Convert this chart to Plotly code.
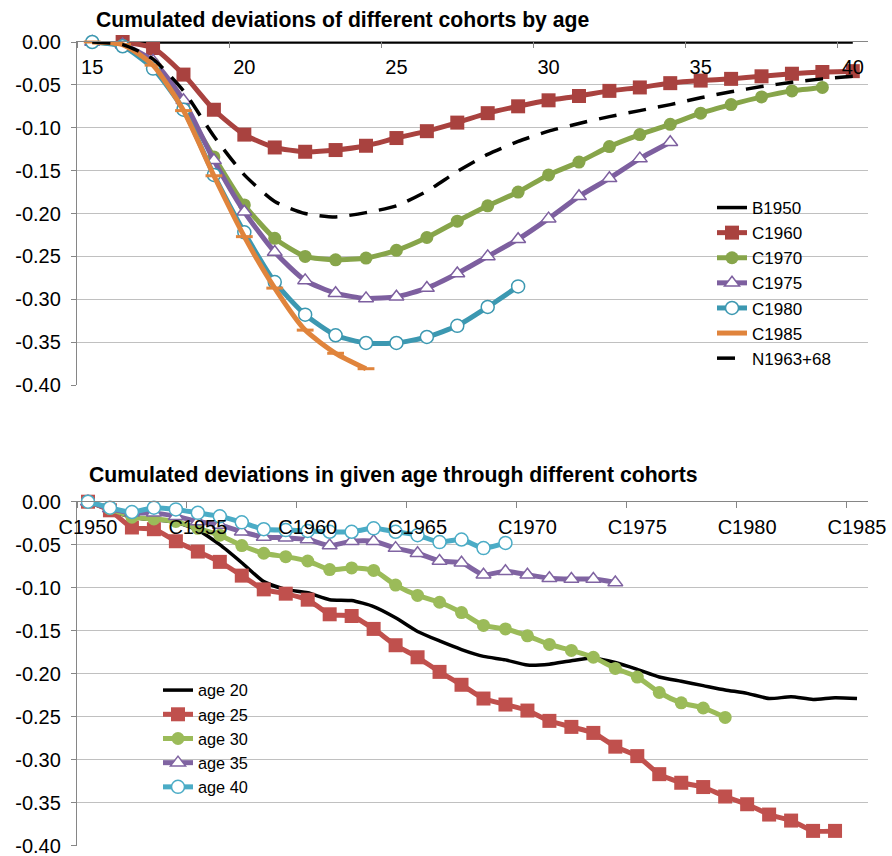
import plotly.graph_objects as go

# ---------------- data: top chart (by age) ----------------
AGES = list(range(15, 41))
AGE_TICKS = [15, 20, 25, 30, 35, 40]

B1950_START = 15
B1950 = [0.000, 0.000, 0.000, 0.000, 0.000, 0.000, 0.000, 0.000, 0.000, 0.000,
         0.000, 0.000, 0.000, 0.000, 0.000, 0.000, 0.000, 0.000, 0.000, 0.000,
         0.000, 0.000, 0.000, 0.000, 0.000, 0.000]
C1960_START = 16
C1960 = [0.000, -0.007, -0.038, -0.079, -0.108, -0.123, -0.128, -0.126, -0.121, -0.112,
         -0.104, -0.094, -0.083, -0.075, -0.068, -0.063, -0.057, -0.053, -0.048, -0.045,
         -0.043, -0.040, -0.037, -0.035, -0.034]
C1970_START = 15
C1970 = [0.000, -0.004, -0.025, -0.075, -0.134, -0.190, -0.229, -0.250, -0.254, -0.252,
         -0.243, -0.228, -0.209, -0.191, -0.175, -0.155, -0.140, -0.122, -0.108, -0.096,
         -0.083, -0.073, -0.064, -0.057, -0.053]
C1975_START = 15
C1975 = [0.000, -0.003, -0.022, -0.068, -0.138, -0.198, -0.245, -0.278, -0.293, -0.299,
         -0.297, -0.287, -0.270, -0.250, -0.230, -0.206, -0.180, -0.159, -0.136, -0.117]
C1980_START = 15
C1980 = [0.000, -0.005, -0.031, -0.079, -0.155, -0.222, -0.280, -0.318, -0.342, -0.351,
         -0.351, -0.344, -0.331, -0.309, -0.285]
C1985_START = 15
C1985 = [0.000, -0.003, -0.027, -0.080, -0.156, -0.227, -0.287, -0.336, -0.363, -0.381]
N1963_68_START = 15
N1963_68 = [0.000, -0.003, -0.020, -0.057, -0.110, -0.155, -0.186, -0.200, -0.204, -0.199,
            -0.191, -0.174, -0.151, -0.131, -0.116, -0.104, -0.095, -0.087, -0.080, -0.073,
            -0.065, -0.058, -0.052, -0.047, -0.043, -0.040]

# ---------------- data: bottom chart (by cohort) ----------------
COHORTS = list(range(1950, 1986))
COHORT_TICKS = [1950, 1955, 1960, 1965, 1970, 1975, 1980, 1985]
COHORT_LABELS = ["C1950", "C1955", "C1960", "C1965", "C1970", "C1975", "C1980", "C1985"]

AGE20 = [0.000, -0.010, -0.018, -0.021, -0.024, -0.033, -0.050, -0.071, -0.093, -0.102,
         -0.106, -0.114, -0.115, -0.122, -0.135, -0.151, -0.162, -0.172, -0.180, -0.184,
         -0.190, -0.189, -0.185, -0.182, -0.187, -0.195, -0.204, -0.209, -0.214, -0.219,
         -0.223, -0.229, -0.227, -0.230, -0.228, -0.229]
AGE25 = [0.000, -0.010, -0.030, -0.032, -0.046, -0.058, -0.070, -0.086, -0.102, -0.107,
         -0.114, -0.131, -0.133, -0.148, -0.167, -0.181, -0.198, -0.213, -0.229, -0.236,
         -0.243, -0.255, -0.262, -0.269, -0.285, -0.296, -0.317, -0.327, -0.332, -0.343,
         -0.352, -0.364, -0.371, -0.383, -0.383]
AGE30 = [0.000, -0.008, -0.018, -0.020, -0.023, -0.031, -0.039, -0.051, -0.060, -0.064,
         -0.069, -0.079, -0.077, -0.080, -0.097, -0.109, -0.117, -0.129, -0.144, -0.148,
         -0.156, -0.166, -0.173, -0.181, -0.194, -0.204, -0.222, -0.234, -0.240, -0.251]
AGE35 = [0.000, -0.008, -0.013, -0.013, -0.017, -0.023, -0.027, -0.035, -0.041, -0.042,
         -0.044, -0.051, -0.046, -0.046, -0.054, -0.060, -0.069, -0.071, -0.085, -0.081,
         -0.085, -0.089, -0.090, -0.090, -0.094]
AGE40 = [0.000, -0.007, -0.012, -0.007, -0.009, -0.013, -0.017, -0.024, -0.032, -0.033,
         -0.034, -0.035, -0.035, -0.031, -0.035, -0.039, -0.047, -0.044, -0.054, -0.048]

Y_TICKS = [0.00, -0.05, -0.10, -0.15, -0.20, -0.25, -0.30, -0.35, -0.40]

# ---------------- styling ----------------
FONT = "Liberation Sans, Arial, sans-serif"
AXIS_GRAY = "#868686"
GRID_GRAY = "#C0C0C0"
TICK_FS = 20
TITLE_FS = 21.2

fig = go.Figure()


def xs_from(start, n):
    return [start + i for i in range(n)]


def cohorts_for(vals):
    return COHORTS[:len(vals)]


top = [
    ("B1950", B1950_START, B1950, dict(color="#000000", width=3.5), None),
    ("C1960", C1960_START, C1960, dict(color="#A9423F", width=5),
     dict(symbol="square", size=14, color="#A9423F")),
    ("C1970", C1970_START, C1970, dict(color="#87A54A", width=5),
     dict(symbol="circle", size=13, color="#87A54A")),
    ("C1975", C1975_START, C1975, dict(color="#7D5F9F", width=5),
     dict(symbol="triangle-up", size=13, color="white", line=dict(color="#7D5F9F", width=1.5))),
    ("C1980", C1980_START, C1980, dict(color="#3C98B1", width=5),
     dict(symbol="circle", size=13, color="white", line=dict(color="#3C98B1", width=1.5))),
    ("C1985", C1985_START, C1985, dict(color="#E0843C", width=5),
     dict(symbol="line-ew", size=12, color="#E0843C", line=dict(color="#E0843C", width=3))),
    ("N1963+68", N1963_68_START, N1963_68, dict(color="#000000", width=3.5, dash="18px,12px"), None),
]
for name, start, vals, line, marker in top:
    fig.add_trace(go.Scatter(
        x=xs_from(start, len(vals)), y=vals, name=name,
        mode="lines+markers" if marker else "lines",
        line=dict(shape="spline", smoothing=0.6, **line),
        marker=marker, cliponaxis=False, xaxis="x", yaxis="y", legend="legend",
    ))

bottom = [
    ("age 20", AGE20, dict(color="#000000", width=3.5), None),
    ("age 25", AGE25, dict(color="#C0504D", width=5),
     dict(symbol="square", size=14, color="#C0504D")),
    ("age 30", AGE30, dict(color="#9BBB59", width=5),
     dict(symbol="circle", size=13, color="#9BBB59")),
    ("age 35", AGE35, dict(color="#8064A2", width=5),
     dict(symbol="triangle-up", size=13, color="white", line=dict(color="#8064A2", width=1.5))),
    ("age 40", AGE40, dict(color="#4BACC6", width=5),
     dict(symbol="circle", size=13, color="white", line=dict(color="#4BACC6", width=1.5))),
]
for name, vals, line, marker in bottom:
    fig.add_trace(go.Scatter(
        x=cohorts_for(vals), y=vals, name=name,
        mode="lines+markers" if marker else "lines",
        line=dict(shape="spline", smoothing=0.6, **line),
        marker=marker, cliponaxis=False, xaxis="x2", yaxis="y2", legend="legend2",
    ))

W, H = 892, 856
L, R = 77, 868
top_t, top_b = 42, 385
bot_t, bot_b = 501.7, 845.5


def ydom(t, b):
    return [(H - b) / H, (H - t) / H]


def px_x(v):
    return v / W


def px_y(v):
    return (H - v) / H


y_ticktext = [f"{v:.2f}" for v in Y_TICKS]

yaxis_common = dict(
    range=[-0.40, 0.0], tickvals=Y_TICKS, ticktext=y_ticktext,
    showgrid=True, gridcolor=GRID_GRAY, gridwidth=1.3, zeroline=False,
    showline=True, linecolor=AXIS_GRAY, linewidth=1.3,
    ticks="outside", ticklen=5, tickcolor=AXIS_GRAY, tickwidth=1.3,
    tickfont=dict(family=FONT, size=TICK_FS, color="#000000"),
    ticklabelstandoff=6, ticklabeloverflow="allow", automargin=False,
)
xaxis_common = dict(
    side="top", showgrid=False, zeroline=False,
    showline=True, linecolor=AXIS_GRAY, linewidth=1.3,
    ticks="", ticklabelposition="inside", ticklabeloverflow="allow",
    tickfont=dict(family=FONT, size=TICK_FS, color="#000000"),
    ticklabelstandoff=19, automargin=False,
)

# white legend boxes hiding the gridlines, as in the original
legend_boxes = [
    dict(type="rect", xref="paper", yref="paper", layer="between",
         x0=px_x(650), x1=px_x(866), y0=px_y(374), y1=px_y(190),
         fillcolor="white", line=dict(width=0)),
    dict(type="rect", xref="paper", yref="paper", layer="between",
         x0=px_x(123), x1=px_x(274), y0=px_y(800), y1=px_y(676),
         fillcolor="white", line=dict(width=0)),
]

fig.update_layout(
    width=W, height=H, margin=dict(l=0, r=0, t=0, b=0, autoexpand=False),
    paper_bgcolor="white", plot_bgcolor="white",
    font=dict(family=FONT, color="#000000"),
    xaxis=dict(domain=[L / W, R / W], anchor="y",
               range=[AGES[0] - 0.5, AGES[-1] + 0.5],
               tickvals=AGE_TICKS, ticktext=[str(a) for a in AGE_TICKS],
               minor=dict(tickvals=[a - 0.5 for a in AGE_TICKS], ticks="inside",
                          ticklen=6, tickcolor=AXIS_GRAY, tickwidth=1.3, showgrid=False),
               **xaxis_common),
    yaxis=dict(domain=ydom(top_t, top_b), anchor="x", **yaxis_common),
    xaxis2=dict(domain=[L / W, R / W], anchor="y2",
                range=[COHORTS[0] - 0.5, COHORTS[-1] + 0.5],
                tickvals=COHORT_TICKS, ticktext=COHORT_LABELS,
                minor=dict(tickvals=[c - 0.5 for c in COHORT_TICKS], ticks="inside",
                           ticklen=6, tickcolor=AXIS_GRAY, tickwidth=1.3, showgrid=False),
                **xaxis_common),
    yaxis2=dict(domain=ydom(bot_t, bot_b), anchor="x2", **yaxis_common),
    legend=dict(x=px_x(712), y=px_y(190), xanchor="left", yanchor="top",
                bgcolor="rgba(0,0,0,0)", borderwidth=0,
                font=dict(family=FONT, size=17, color="#000000"),
                tracegroupgap=0),
    legend2=dict(x=px_x(158), y=px_y(673), xanchor="left", yanchor="top",
                 bgcolor="rgba(0,0,0,0)", borderwidth=0,
                 font=dict(family=FONT, size=16.3, color="#000000"),
                 tracegroupgap=0),
    showlegend=True,
    shapes=legend_boxes,
    annotations=[
        dict(text="<b>Cumulated deviations of different cohorts by age</b>",
             x=px_x(94), y=px_y(20), xref="paper", yref="paper",
             xanchor="left", yanchor="middle", showarrow=False,
             font=dict(family=FONT, size=TITLE_FS, color="#000000")),
        dict(text="<b>Cumulated deviations in given age through different cohorts</b>",
             x=px_x(87), y=px_y(475), xref="paper", yref="paper",
             xanchor="left", yanchor="middle", showarrow=False,
             font=dict(family=FONT, size=TITLE_FS, color="#000000")),
    ],
)

fig.write_html("out.html")
